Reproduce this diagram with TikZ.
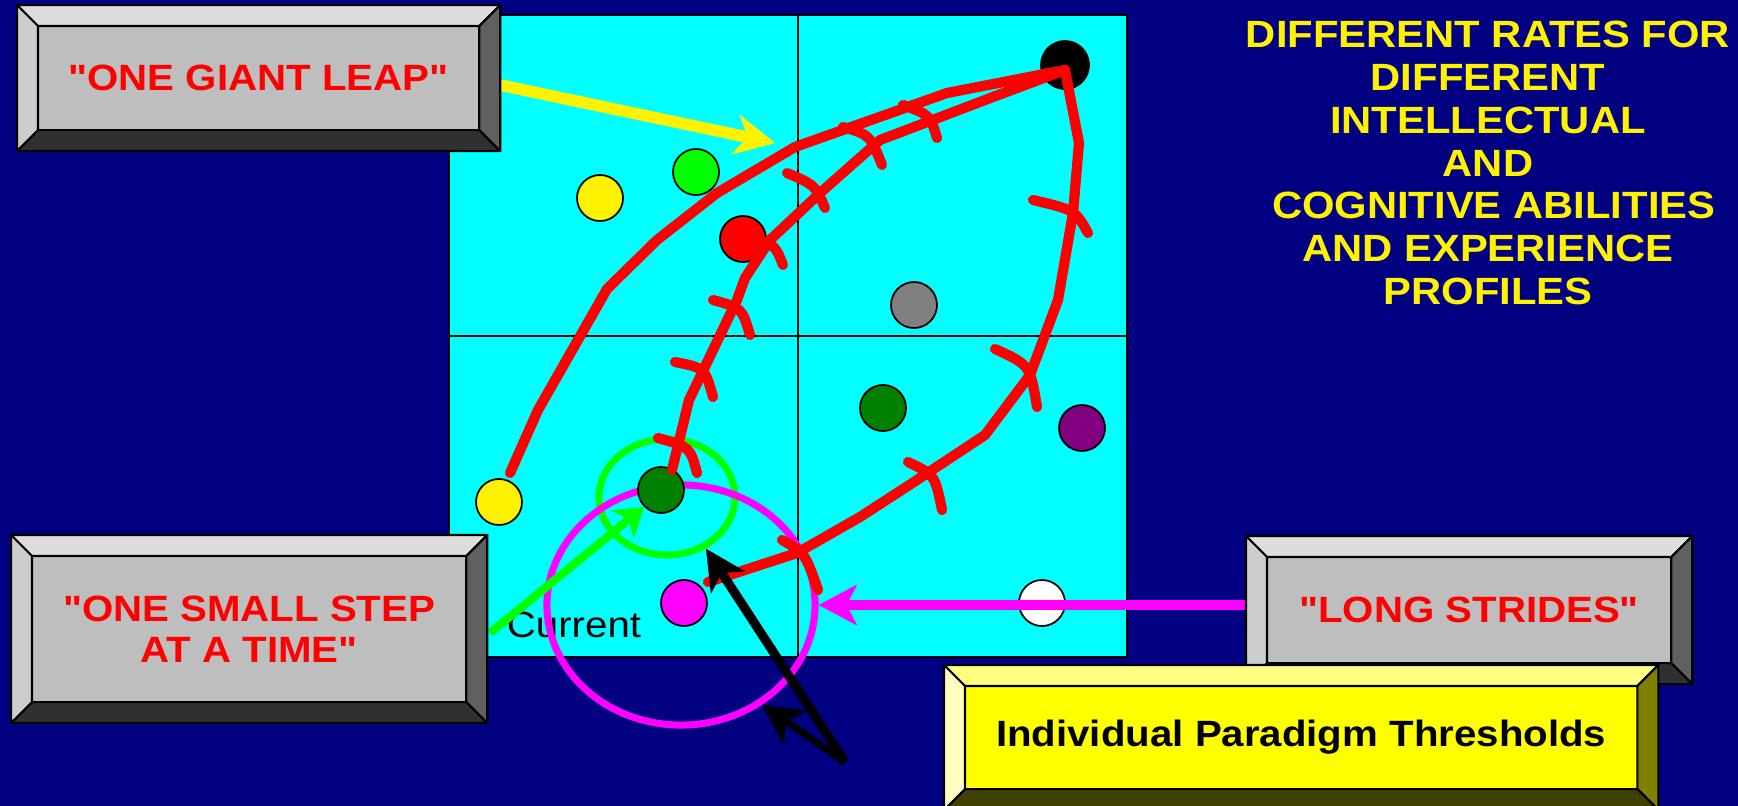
\documentclass[tikz,border=0pt]{standalone}
\usepackage{fontspec}
\newfontfamily\slidefont{Liberation Sans}[FakeStretch=1.1]
\usetikzlibrary{arrows.meta,shapes.geometric,calc}
\definecolor{slidebg}{RGB}{0,0,128}
\definecolor{fieldcyan}{RGB}{0,255,255}
\definecolor{pink}{RGB}{255,0,255}
\definecolor{lime}{RGB}{0,255,0}
\definecolor{dkgreen}{RGB}{0,128,0}
\definecolor{dotpurple}{RGB}{128,0,128}
\definecolor{gbface}{RGB}{190,190,190}
\definecolor{gbtop}{RGB}{221,221,221}
\definecolor{gbleft}{RGB}{204,204,204}
\definecolor{gbright}{RGB}{96,96,96}
\definecolor{gbbottom}{RGB}{48,48,48}
\definecolor{ybface}{RGB}{255,255,0}
\definecolor{ybtop}{RGB}{255,255,128}
\definecolor{ybleft}{RGB}{255,255,192}
\definecolor{ybright}{RGB}{128,128,0}
\definecolor{ybbottom}{RGB}{64,64,0}
\tikzset{
  dot/.style={circle, draw=black, line width=0.5pt, inner sep=0pt, minimum size=0.46cm},
  ring/.style={ellipse, draw=#1, line width=2pt, inner sep=0pt},
  trail/.style={red, line width=2.9pt, line cap=round, line join=round},
  slab/.style={draw=black, line width=0.6pt, inner sep=0pt, outer sep=0pt, anchor=north west},
  bevface/.style={fill=#1, draw=black, line width=0.6pt, line join=round},
  boxtext/.style={font=\slidefont\fontsize{10.4pt}{11.7pt}\selectfont\bfseries, text=red, align=center},
  yarrow/.style={-{Stealth[length=4mm,width=4mm,inset=1.2mm]}, line width=3.3pt, yellow},
  marrow/.style={-{Stealth[length=3.8mm,width=4mm,inset=1mm]}, line width=3pt, pink},
  garrow/.style={-{Stealth[length=2.8mm,width=3.6mm,inset=0.8mm]}, line width=2.4pt, lime},
  barrow/.style={-{Stealth[length=4mm,width=4mm,inset=1.1mm]}, line width=2.6pt, black},
}
% #1 node, #2 bevel width, #3 colour set
\newcommand{\bevel}[3]{%
  \coordinate (bvA) at ([shift={(#2,#2)}]#1.north west);
  \coordinate (bvB) at ([shift={(-#2,#2)}]#1.north east);
  \coordinate (bvC) at ([shift={(-#2,-#2)}]#1.south east);
  \coordinate (bvD) at ([shift={(#2,-#2)}]#1.south west);
  \draw[bevface=#3top] (#1.north west) -- (#1.north east) -- (bvB) -- (bvA) -- cycle;
  \draw[bevface=#3right] (#1.north east) -- (#1.south east) -- (bvC) -- (bvB) -- cycle;
  \draw[bevface=#3bottom] (#1.south east) -- (#1.south west) -- (bvD) -- (bvC) -- cycle;
  \draw[bevface=#3left] (#1.south west) -- (#1.north west) -- (bvA) -- (bvD) -- cycle;
}
\newcommand{\stride}[3]{\draw[trail] #1 .. controls #2 .. #3;}

\begin{document}
\begin{tikzpicture}[x=0.01cm, y=-0.01cm]
    \clip (0,0) rectangle (1738,806);
    \fill[slidebg] (0,0) rectangle (1738,806);
    % quadrant field
    \node[slab, fill=fieldcyan, minimum width=6.78cm, minimum height=6.42cm] (field) at (449,15) {};
    \draw[line width=0.6pt] (798,15) -- (798,657);
    \draw[line width=0.6pt] (449,336) -- (1127,336);
    \node[font=\slidefont\fontsize{10.4pt}{11.7pt}\selectfont] (current) at (574,625) {Current};
    \node[ring=lime, minimum width=1.36cm, minimum height=1.16cm] (greenring) at (667,497) {};
    \node[ring=pink, minimum width=2.68cm, minimum height=2.40cm] (magring) at (681,605) {};
    % profiles
    \node[dot, fill=yellow] (ylwA) at (600,198) {};
    \node[dot, fill=lime] (grnA) at (696,172) {};
    \node[dot, fill=red] (redA) at (743,239) {};
    \node[dot, fill=gray] (gryA) at (914,305) {};
    \node[dot, fill=black, minimum size=0.48cm] (goal) at (1065,65) {};
    \node[dot, fill=dkgreen] (dgrA) at (883,408) {};
    \node[dot, fill=dotpurple] (purA) at (1082,428) {};
    \node[dot, fill=yellow] (ylwB) at (499,502) {};
    \node[dot, fill=dkgreen] (curdot) at (661,490) {};
    \node[dot, fill=pink] (magA) at (684,603) {};
    \node[dot, fill=white] (whtA) at (1042,603) {};
    % three routes to the goal
    \draw[trail] (510,473) -- (538,410) -- (607,289) -- (657,240) -- (717,193)
      -- (795,147) -- (947,93) -- (1065,70);
    \draw[trail] (672,470) -- (689,400) -- (737,300) -- (745,278) -- (770,240)
      -- (820,193) -- (880,140) -- (993,97) -- (1065,70);
    \draw[trail] (708,582) -- (797,553) -- (860,517) -- (917,480) -- (985,435)
      -- (1030,375) -- (1058,300) -- (1073,213) -- (1079,143) -- (1065,70);
    \stride{(658,438)}{(690,447)}{(697,473)}
    \stride{(675,362)}{(705,368)}{(713,397)}
    \stride{(713,300)}{(742,308)}{(750,335)}
    \stride{(752,238)}{(775,245)}{(783,265)}
    \stride{(787,173)}{(815,185)}{(825,208)}
    \stride{(843,127)}{(870,135)}{(882,165)}
    \stride{(903,105)}{(930,115)}{(937,138)}
    \stride{(1033,200)}{(1075,210)}{(1088,233)}
    \stride{(995,349)}{(1030,365)}{(1037,407)}
    \stride{(908,462)}{(935,475)}{(942,510)}
    \stride{(782,540)}{(805,553)}{(818,590)}
    % pointers
    \coordinate (greenstart) at (490,633);
    \coordinate (pointer) at (845,762);
    \coordinate (leaptip) at (775,143);
    \draw[garrow] (greenstart) -- (curdot.south west);
    \draw[barrow] (pointer) -- (greenring.-53);
    \draw[barrow, line width=2pt] (pointer) -- (magring.-51);
    \draw[yarrow] (500,85) -- (leaptip);
    % labelled boxes
    \node[slab, fill=gbface, minimum width=4.83cm, minimum height=1.46cm] (leapbox) at (17,5) {};
    \bevel{leapbox}{21}{gb}
    \node[boxtext] (leap) at (leapbox) {"ONE GIANT LEAP"};
    \node[slab, fill=gbface, minimum width=4.76cm, minimum height=1.88cm] (stepbox) at (11,535) {};
    \bevel{stepbox}{21}{gb}
    \node[boxtext] (smallstep) at (stepbox) {"ONE SMALL STEP\\AT A TIME"};
    \draw[marrow] (1246,605) -- (magring.east);
    \node[slab, fill=gbface, minimum width=4.46cm, minimum height=1.48cm] (stridebox) at (1246,536) {};
    \bevel{stridebox}{21}{gb}
    \node[boxtext] (strides) at (stridebox) {"LONG STRIDES"};
    \node[slab, fill=ybface, minimum width=7.14cm, minimum height=1.45cm] (threshbox) at (944,665) {};
    \bevel{threshbox}{21}{yb}
    \node[boxtext, text=black] (thresh) at (threshbox) {Individual Paradigm Thresholds};
    \node[font=\slidefont\fontsize{10.8pt}{12.2pt}\selectfont\bfseries, text=yellow, align=center]
      (title) at (1488,163) {DIFFERENT RATES FOR\\DIFFERENT\\INTELLECTUAL\\AND\\
      \hspace*{0.3em}COGNITIVE ABILITIES\\AND EXPERIENCE\\PROFILES};
\end{tikzpicture}
\end{document}
